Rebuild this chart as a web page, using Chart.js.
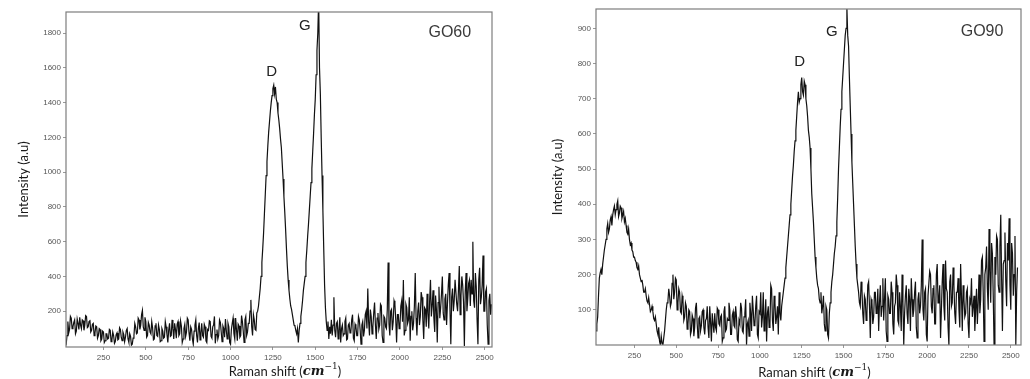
<!DOCTYPE html>
<html><head><meta charset="utf-8">
<script src="https://cdn.jsdelivr.net/npm/chart.js@4.4.1/dist/chart.umd.min.js"></script>
<style>
html,body{margin:0;padding:0;background:#fff;}
#wrap{position:relative;width:1030px;height:379px;overflow:hidden;background:#fff;}
.panel{position:absolute;top:0;width:515px;height:379px;}
</style></head><body>
<div id="wrap">
<div class="panel" style="left:0"><canvas id="c1" width="515" height="379"></canvas></div>
<div class="panel" style="left:515px"><canvas id="c2" width="515" height="379"></canvas></div>
</div>
<script>
// Raman shift (cm^-1) sample positions
const ramanShift = [20,25,
  30,35,40,45,50,55,60,65,70,75,80,85,90,95,100,105,110,115,120,125,
  130,135,140,145,150,155,160,165,170,175,180,185,190,195,200,205,210,215,220,225,
  230,235,240,245,250,255,260,265,270,275,280,285,290,295,300,305,310,315,320,325,
  330,335,340,345,350,355,360,365,370,375,380,385,390,395,400,405,410,415,420,425,
  430,435,440,445,450,455,460,465,470,475,480,485,490,495,500,505,510,515,520,525,
  530,535,540,545,550,555,560,565,570,575,580,585,590,595,600,605,610,615,620,625,
  630,635,640,645,650,655,660,665,670,675,680,685,690,695,700,705,710,715,720,725,
  730,735,740,745,750,755,760,765,770,775,780,785,790,795,800,805,810,815,820,825,
  830,835,840,845,850,855,860,865,870,875,880,885,890,895,900,905,910,915,920,925,
  930,935,940,945,950,955,960,965,970,975,980,985,990,995,1000,1005,1010,1015,1020,1025,
  1030,1035,1040,1045,1050,1055,1060,1065,1070,1075,1080,1085,1090,1095,1100,1105,1110,1115,1120,1125,
  1130,1135,1140,1145,1150,1155,1160,1165,1170,1175,1180,1185,1190,1195,1200,1205,1210,1215,1220,1225,
  1230,1235,1240,1245,1250,1255,1260,1265,1270,1275,1280,1285,1290,1295,1300,1305,1310,1315,1320,1325,
  1330,1335,1340,1345,1350,1355,1360,1365,1370,1375,1380,1385,1390,1395,1400,1405,1410,1415,1420,1425,
  1430,1435,1440,1445,1450,1455,1460,1465,1470,1475,1480,1485,1490,1495,1500,1505,1510,1515,1520,1525,
  1530,1535,1540,1545,1550,1555,1560,1565,1570,1575,1580,1585,1590,1595,1600,1605,1610,1615,1620,1625,
  1630,1635,1640,1645,1650,1655,1660,1665,1670,1675,1680,1685,1690,1695,1700,1705,1710,1715,1720,1725,
  1730,1735,1740,1745,1750,1755,1760,1765,1770,1775,1780,1785,1790,1795,1800,1805,1810,1815,1820,1825,
  1830,1835,1840,1845,1850,1855,1860,1865,1870,1875,1880,1885,1890,1895,1900,1905,1910,1915,1920,1925,
  1930,1935,1940,1945,1950,1955,1960,1965,1970,1975,1980,1985,1990,1995,2000,2005,2010,2015,2020,2025,
  2030,2035,2040,2045,2050,2055,2060,2065,2070,2075,2080,2085,2090,2095,2100,2105,2110,2115,2120,2125,
  2130,2135,2140,2145,2150,2155,2160,2165,2170,2175,2180,2185,2190,2195,2200,2205,2210,2215,2220,2225,
  2230,2235,2240,2245,2250,2255,2260,2265,2270,2275,2280,2285,2290,2295,2300,2305,2310,2315,2320,2325,
  2330,2335,2340,2345,2350,2355,2360,2365,2370,2375,2380,2385,2390,2395,2400,2405,2410,2415,2420,2425,
  2430,2435,2440,2445,2450,2455,2460,2465,2470,2475,2480,2485,2490,2495,2500,2505,2510,2515,2520,2525,
  2530,2535,2540];

// GO60 intensity (a.u)
const go60Intensity = [0,0,
  10,60,140,75,95,170,160,100,110,135,150,70,85,155,130,95,165,120,100,150,
  145,90,120,175,170,105,110,140,150,80,90,125,130,60,75,115,110,45,60,100,
  95,30,40,85,80,20,30,70,70,40,45,95,90,25,35,80,60,15,25,65,
  75,35,40,105,95,50,30,80,65,25,50,90,100,40,20,70,55,5,10,45,
  60,130,110,70,75,160,150,95,120,180,205,110,90,165,140,50,60,135,120,80,
  70,140,105,35,40,115,130,60,55,120,95,25,30,100,85,45,50,140,110,65,
  20,90,130,55,60,150,100,40,130,95,45,125,140,60,70,145,115,20,40,100,
  125,55,80,160,150,75,30,110,95,40,10,85,120,150,60,20,100,135,35,75,
  130,60,50,125,110,30,20,95,90,145,140,55,45,110,120,170,15,65,95,40,
  60,150,135,80,25,115,100,50,155,90,40,130,110,20,10,95,130,160,70,40,
  160,95,30,125,115,50,60,175,140,85,20,150,170,60,80,130,130,200,265,110,
  60,180,150,95,90,190,200,230,280,330,400,480,560,650,760,870,980,1060,1150,1230,
  1290,1350,1400,1440,1480,1500,1450,1490,1420,1400,1340,1300,1250,1190,1140,1050,960,860,770,670,
  560,460,380,320,270,230,210,180,150,120,115,90,70,100,20,90,130,170,210,260,
  320,360,400,480,550,630,700,780,860,940,1020,1120,1220,1330,1420,1560,1700,1800,1990,1600,
  1450,1200,980,780,560,350,220,140,90,140,40,110,70,150,60,120,280,90,50,130,
  140,40,90,165,20,100,120,60,70,140,160,35,40,120,130,75,80,150,180,45,
  30,125,110,60,60,170,150,90,10,120,140,55,90,180,200,100,330,140,60,210,
  170,70,110,190,250,120,40,160,190,95,120,240,230,60,20,170,160,110,100,210,
  480,130,60,200,210,90,140,260,240,150,20,180,180,100,120,230,260,140,380,60,
  90,240,220,130,150,280,30,170,200,90,130,230,420,160,60,200,250,120,170,310,
  280,150,40,220,210,110,300,190,100,260,380,170,230,320,160,80,290,210,20,250,
  340,160,220,300,400,190,150,270,300,120,240,350,420,210,10,280,330,200,260,380,
  380,240,200,320,460,180,290,400,350,250,0,310,420,200,270,360,380,230,380,300,
  600,260,220,420,340,150,10,380,450,240,280,350,520,200,200,310,330,120,10,260,
  300,180,240];

// GO90 intensity (a.u)
const go90Intensity = [40,60,
  80,140,190,205,215,200,230,250,270,285,300,330,345,320,330,355,365,340,370,385,
  395,370,385,400,410,365,375,395,390,360,370,380,350,360,340,320,315,330,300,285,
  290,270,265,250,250,240,235,220,215,225,200,190,180,185,170,150,150,160,140,125,
  120,135,115,95,100,110,95,75,70,80,60,40,30,50,10,0,25,5,0,20,
  40,70,100,120,125,160,140,110,120,175,200,130,150,190,185,100,120,160,150,95,
  90,140,125,70,80,120,110,45,60,100,95,30,40,85,75,25,50,105,120,60,
  20,75,80,40,55,95,100,50,30,70,75,110,50,20,110,65,10,90,60,35,
  90,50,40,105,100,60,55,80,85,10,20,95,110,40,45,75,70,120,100,30,
  30,85,95,55,50,110,80,15,10,70,60,120,105,40,35,80,90,130,0,60,
  70,25,120,90,40,140,100,55,60,110,140,30,20,95,90,150,50,80,150,40,
  75,130,10,90,110,50,60,170,160,70,40,140,120,60,80,110,30,150,90,70,
  110,130,150,170,190,220,250,280,310,340,370,400,440,480,510,550,580,610,650,690,
  720,690,700,740,760,720,710,750,740,700,680,650,610,590,560,500,430,390,350,300,
  250,220,190,170,160,130,120,150,90,110,140,60,40,110,100,30,20,90,120,150,
  180,200,230,260,280,310,350,420,500,560,620,670,720,760,800,840,880,900,960,880,
  850,760,680,600,520,460,400,340,280,230,190,170,150,120,110,180,160,90,60,140,
  130,70,90,170,180,110,20,130,120,60,80,150,150,90,100,160,40,120,170,80,
  110,190,70,130,190,40,10,140,130,90,90,180,150,60,30,110,120,200,170,70,
  60,150,110,40,200,120,0,90,140,170,90,60,160,130,40,190,130,80,100,150,
  180,50,20,130,150,90,110,170,300,100,70,150,160,30,10,140,140,210,200,110,
  90,160,170,60,60,200,230,120,130,170,20,100,180,230,110,70,240,160,150,50,
  0,180,200,110,120,220,170,90,60,150,150,190,100,50,230,140,40,170,130,80,
  90,150,160,60,20,130,120,190,80,110,140,40,100,160,60,120,200,90,130,240,
  250,150,10,200,220,280,160,100,330,210,120,290,260,140,0,250,200,310,300,170,
  150,280,370,190,40,230,240,320,180,110,290,240,360,170,100,290,260,140,200,310,
  0,150,220];

const xTickValues = [250,500,750,1000,1250,1500,1750,2000,2250,2500];
const go60YTicks = [200,400,600,800,1000,1200,1400,1600,1800];
const go90YTicks = [100,200,300,400,500,600,700,800,900];
const go60Notes = [{text:'D', x:1243, y:1579}, {text:'G', x:1439, y:1842}, {text:'GO60', x:2294, y:1800}];
const go90Notes = [{text:'D', x:1237, y:805}, {text:'G', x:1430, y:890}, {text:'GO90', x:2328, y:890}];

const framePlugin = {
  id: 'frame',
  afterDraw(chart, args, opts) {
    const {ctx, chartArea: a, scales: {x, y}} = chart;
    ctx.save();
    ctx.strokeStyle = '#7d7d7d';
    ctx.lineWidth = 1.2;
    ctx.strokeRect(a.left, a.top, a.right - a.left, a.bottom - a.top);
    ctx.textAlign = 'center';
    ctx.textBaseline = 'middle';
    for (const n of opts.notes) {
      const big = n.text.length > 1;
      ctx.font = (big ? '16px' : '15px') + ' "Liberation Sans", Arial, sans-serif';
      ctx.fillStyle = big ? '#3a3a3a' : '#222';
      ctx.fillText(n.text, x.getPixelForValue(n.x), y.getPixelForValue(n.y));
    }
    // x-axis title with italic "cm" and superscript
    const parts = [
      {t: 'Raman shift (', f: '13px Lato, sans-serif', dy: 0},
      {t: 'cm', f: 'italic bold 13px "DejaVu Serif", serif', dy: 0},
      {t: '\u22121', f: '9px "DejaVu Serif", serif', dy: -5},
      {t: ')', f: '13px Lato, sans-serif', dy: 0}
    ];
    let total = 0;
    for (const p of parts) { ctx.font = p.f; p.w = ctx.measureText(p.t).width; total += p.w; }
    let cx = (a.left + a.right) / 2 + opts.titleShift - total / 2;
    const cy = opts.titleY;
    ctx.textAlign = 'left';
    ctx.textBaseline = 'middle';
    ctx.fillStyle = '#1a1a1a';
    for (const p of parts) { ctx.font = p.f; ctx.fillText(p.t, cx, cy + p.dy); cx += p.w; }
    ctx.restore();
  }
};

function makeChart(id, values, yTicks, notes, cfg) {
  return new Chart(document.getElementById(id), {
    type: 'line',
    data: {
      datasets: [{
        data: ramanShift.map((s, i) => ({x: s, y: values[i]})),
        borderColor: '#111',
        borderWidth: 1.2,
        pointRadius: 0,
        tension: 0,
        fill: false
      }]
    },
    options: {
      responsive: false,
      animation: false,
      devicePixelRatio: 1,
      layout: {padding: {left: 0, top: cfg.padTop, right: cfg.padRight, bottom: 0}},
      plugins: {
        legend: {display: false},
        tooltip: {enabled: false},
        frame: {notes: notes, titleShift: 6, titleY: cfg.titleY}
      },
      scales: {
        x: {
          type: 'linear',
          min: cfg.xMin, max: cfg.xMax,
          afterBuildTicks: s => { s.ticks = xTickValues.map(v => ({value: v})); },
          afterFit: s => { s.height = cfg.xAxisHeight; },
          ticks: {font: {family: '"Liberation Sans", Arial, sans-serif', size: 8}, color: '#555', padding: 3, maxRotation: 0, autoSkip: false, callback: v => String(v)},
          grid: {display: true, drawOnChartArea: false, tickLength: 3, color: '#999'},
          border: {display: false}
        },
        y: {
          type: 'linear',
          min: cfg.yMin, max: cfg.yMax,
          afterBuildTicks: s => { s.ticks = yTicks.map(v => ({value: v})); },
          afterFit: s => { s.width = cfg.yAxisWidth; },
          ticks: {font: {family: '"Liberation Sans", Arial, sans-serif', size: 8}, color: '#555', padding: 2, autoSkip: false, callback: v => String(v)},
          grid: {display: true, drawOnChartArea: false, tickLength: 3, color: '#999'},
          border: {display: false},
          title: {display: true, text: 'Intensity (a.u)', font: {family: 'Lato, sans-serif', size: 13}, color: '#1a1a1a', padding: {top: cfg.yTitlePad, bottom: 0}}
        }
      }
    },
    plugins: [framePlugin]
  });
}

makeChart('c1', go60Intensity, go60YTicks, go60Notes,
  {padTop: 12, padRight: 23, xAxisHeight: 32, yAxisWidth: 66, xMin: 29, xMax: 2543, yMin: -6, yMax: 1921, yTitlePad: 16, titleY: 372});
makeChart('c2', go90Intensity, go90YTicks, go90Notes,
  {padTop: 9, padRight: 9, xAxisHeight: 34, yAxisWidth: 81, xMin: 20, xMax: 2561, yMin: 0, yMax: 955, yTitlePad: 35, titleY: 373});
</script>
</body></html>
